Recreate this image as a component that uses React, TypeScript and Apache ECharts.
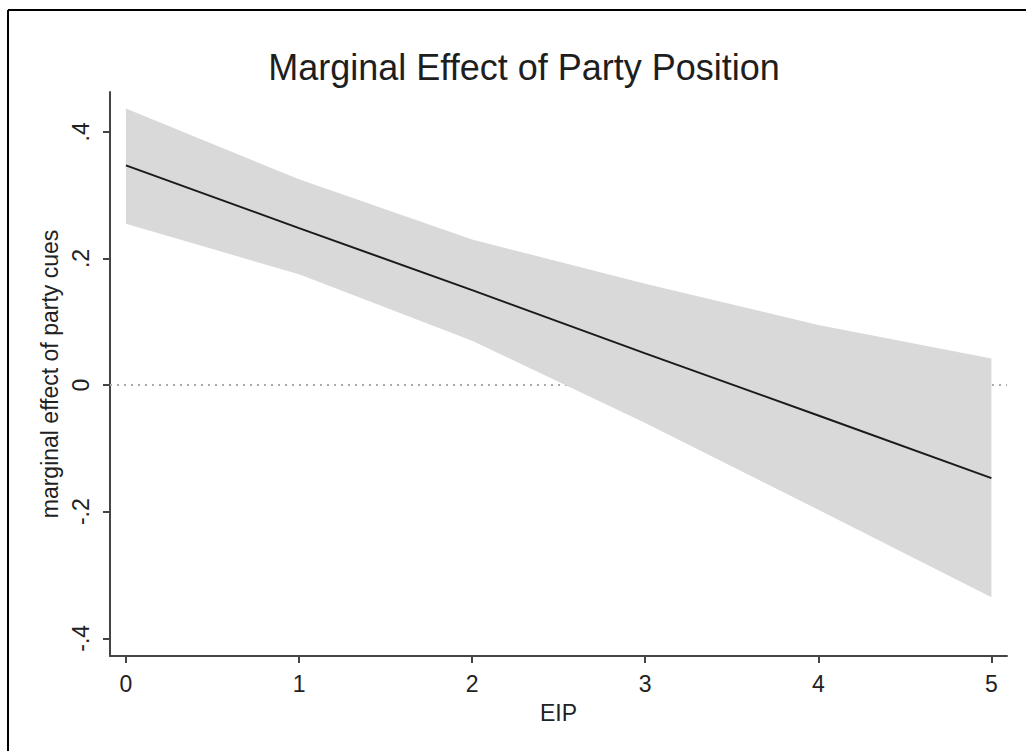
import React, { useEffect, useRef } from "react";
import * as echarts from "echarts";

const eipValues = [0, 1, 2, 3, 4, 5];
const effectValues = [0.347, 0.248, 0.15, 0.05, -0.048, -0.147];
const upperValues = [0.437, 0.325, 0.23, 0.16, 0.095, 0.042];
const lowerValues = [0.255, 0.175, 0.07, -0.06, -0.197, -0.335];
const xTicks = [0, 1, 2, 3, 4, 5];
const yTicks = [-0.4, -0.2, 0, 0.2, 0.4];
const xRange = [-0.092, 5.09];
const yRange = [-0.428, 0.463];

const FONT = "Liberation Sans, Arial, sans-serif";

function fmtY(v: number): string {
  if (Math.abs(v) < 1e-9) return "0";
  const s = String(Math.round(Math.abs(v) * 10) / 10).replace(/^0/, "");
  return (v < 0 ? "-" : "") + s;
}

export default function App() {
  const ref = useRef<HTMLDivElement>(null);
  useEffect(() => {
    document.body.style.margin = "0";
    const chart = echarts.init(ref.current!, null, { renderer: "svg" });
    const bandData = eipValues.map((x, i) => [x, lowerValues[i], upperValues[i]]);
    chart.setOption({
      animation: false,
      backgroundColor: "#ffffff",
      title: {
        text: "Marginal Effect of Party Position",
        left: 519,
        top: 44,
        textAlign: "center",
        textStyle: { fontFamily: FONT, fontSize: 36, fontWeight: "normal", color: "#1e1e1e" },
      },
      grid: { left: 110, top: 92, right: 19, bottom: 95, containLabel: false },
      xAxis: {
        type: "value",
        min: xRange[0],
        max: xRange[1],
        name: "EIP",
        nameLocation: "middle",
        nameGap: 45,
        nameTextStyle: { fontFamily: FONT, fontSize: 23, color: "#222" },
        axisLine: { show: true, onZero: false, lineStyle: { color: "#444", width: 2 } },
        axisTick: { show: true, length: 7, customValues: xTicks, lineStyle: { color: "#444", width: 2 } },
        axisLabel: {
          customValues: xTicks,
          margin: 16,
          fontFamily: FONT,
          fontSize: 23,
          color: "#222",
          formatter: (v: number) => String(v),
        },
        splitLine: { show: false },
      },
      yAxis: {
        type: "value",
        min: yRange[0],
        max: yRange[1],
        name: "marginal effect of party cues",
        nameLocation: "middle",
        nameGap: 46,
        nameRotate: 90,
        nameTextStyle: { fontFamily: FONT, fontSize: 23, color: "#222" },
        axisLine: { show: true, onZero: false, lineStyle: { color: "#444", width: 2 } },
        axisTick: { show: true, length: 7, customValues: yTicks, lineStyle: { color: "#444", width: 2 } },
        axisLabel: {
          customValues: yTicks,
          rotate: 90,
          margin: 18,
          fontFamily: FONT,
          fontSize: 23,
          color: "#222",
          formatter: (v: number) => fmtY(v),
        },
        splitLine: { show: false },
      },
      series: [
        {
          type: "line",
          data: [[xRange[0], 0], [xRange[1], 0]],
          symbol: "none",
          lineStyle: { color: "#aaaaaa", width: 2, type: [2, 5] },
          z: 1,
          silent: true,
        },
        {
          type: "custom",
          data: bandData,
          z: 2,
          silent: true,
          renderItem: (params: any, api: any) => {
            if (params.dataIndex !== 0) return null;
            const pts: number[][] = [];
            for (let i = 0; i < eipValues.length; i++) pts.push(api.coord([eipValues[i], upperValues[i]]));
            for (let i = eipValues.length - 1; i >= 0; i--) pts.push(api.coord([eipValues[i], lowerValues[i]]));
            return {
              type: "polygon",
              shape: { points: pts },
              style: { fill: "#d9d9d9", stroke: "none" },
            };
          },
        },
        {
          type: "line",
          data: eipValues.map((x, i) => [x, effectValues[i]]),
          symbol: "none",
          lineStyle: { color: "#1a1a1a", width: 2 },
          z: 3,
          silent: true,
        },
      ],
      graphic: [
        { type: "line", shape: { x1: 8, y1: 10, x2: 8, y2: 751 }, style: { stroke: "#000", lineWidth: 2 } },
        { type: "line", shape: { x1: 8, y1: 10, x2: 1026, y2: 10 }, style: { stroke: "#000", lineWidth: 2 } },
      ],
    });
    return () => chart.dispose();
  }, []);
  return <div ref={ref} style={{ position: "absolute", left: 0, top: 0, width: 1026, height: 751 }} />;
}
